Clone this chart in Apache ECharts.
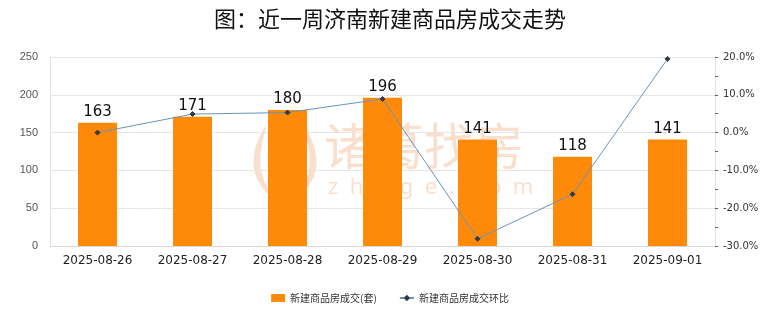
<!DOCTYPE html>
<html>
<head>
<meta charset="utf-8">
<script src="https://cdn.jsdelivr.net/npm/echarts@6/dist/echarts.min.js"></script>
<style>
  html, body { margin: 0; padding: 0; background: #ffffff; }
  #chart { width: 780px; height: 328px; }
</style>
</head>
<body>
<div id="chart"></div>
<script>
// Daily new-home transactions in Jinan, last week
const dates = ['2025-08-26', '2025-08-27', '2025-08-28', '2025-08-29', '2025-08-30', '2025-08-31', '2025-09-01'];
const deals = [163, 171, 180, 196, 141, 118, 141];
const dealsChange = [0.0, 4.9, 5.3, 8.9, -28.1, -16.3, 19.5];

const chart = echarts.init(document.getElementById('chart'), null, { renderer: 'canvas' });

const markColor = 'rgba(238,170,120,0.38)';

chart.setOption({
  animation: false,
  backgroundColor: '#ffffff',
  title: {
    text: '图：近一周济南新建商品房成交走势',
    left: 'center',
    top: 3,
    textStyle: { fontFamily: 'Noto Sans CJK SC', fontSize: 22, fontWeight: 'normal', color: '#111' }
  },
  graphic: [
    {
      type: 'polygon', z: -1, silent: true,
      shape: { points: [[266, 126], [255, 150], [256, 176], [272, 198], [262, 174], [261, 150]], smooth: 0.4 },
      style: { fill: markColor }
    },
    {
      type: 'polygon', z: -1, silent: true,
      shape: { points: [[304, 126], [315, 150], [314, 176], [298, 198], [308, 174], [309, 150]], smooth: 0.4 },
      style: { fill: markColor }
    },
    {
      type: 'text', left: 324, top: 121, z: -1, silent: true,
      style: { text: '诸葛找房', fontFamily: 'Noto Sans CJK SC', fontSize: 50, fontWeight: 'normal', fill: markColor }
    },
    {
      type: 'text', left: 328, top: 177, z: -1, silent: true,
      style: { text: 'z  h  u  g  e  .  c  o  m', fontFamily: 'Noto Sans', fontSize: 22, fill: markColor }
    }
  ],
  legend: {
    bottom: 20,
    left: 'center',
    itemGap: 22,
    itemWidth: 14,
    itemHeight: 8,
    textStyle: { fontFamily: 'Noto Sans CJK SC', fontSize: 10, color: '#333' },
    data: [
      { name: '新建商品房成交(套)', icon: 'rect', itemStyle: { color: '#ff8a0a' } },
      { name: '新建商品房成交环比' }
    ]
  },
  grid: { left: 50, right: 65, top: 57, bottom: 82 },
  xAxis: {
    type: 'category',
    data: dates,
    axisLine: { show: true, lineStyle: { color: '#d9d9d9' } },
    axisTick: { show: false },
    axisLabel: { fontFamily: 'DejaVu Sans', fontSize: 12, color: '#222', margin: 9 }
  },
  yAxis: [
    {
      type: 'value', min: 0, max: 250, interval: 50,
      axisLine: { show: true, lineStyle: { color: '#e3e3e3' } },
      axisTick: { show: false },
      splitLine: { lineStyle: { color: '#e6e6e6' } },
      axisLabel: { fontFamily: 'Liberation Sans', fontSize: 11, color: '#555', margin: 12 }
    },
    {
      type: 'value', min: -30, max: 20, interval: 10,
      axisLine: { show: true, lineStyle: { color: '#e3e3e3' } },
      axisTick: { show: true, length: 3, lineStyle: { color: '#666' } },
      minorTick: { show: true, splitNumber: 2, length: 3, lineStyle: { color: '#666' } },
      splitLine: { show: false },
      axisLabel: { fontFamily: 'DejaVu Sans', fontSize: 10, color: '#333', margin: 8, formatter: v => v.toFixed(1) + '%' }
    }
  ],
  series: [
    {
      name: '新建商品房成交(套)',
      type: 'bar',
      data: deals,
      barWidth: 39,
      itemStyle: { color: '#ff8a0a' },
      label: { show: true, position: 'top', distance: 3, fontFamily: 'DejaVu Sans', fontSize: 15, color: '#111' },
      z: 2
    },
    {
      name: '新建商品房成交环比',
      type: 'line',
      yAxisIndex: 1,
      data: dealsChange,
      symbol: 'diamond',
      symbolSize: 5,
      lineStyle: { color: '#6b93bd', width: 1 },
      itemStyle: { color: '#333a44', borderColor: '#333a44' },
      z: 3
    }
  ]
});
</script>
</body>
</html>
